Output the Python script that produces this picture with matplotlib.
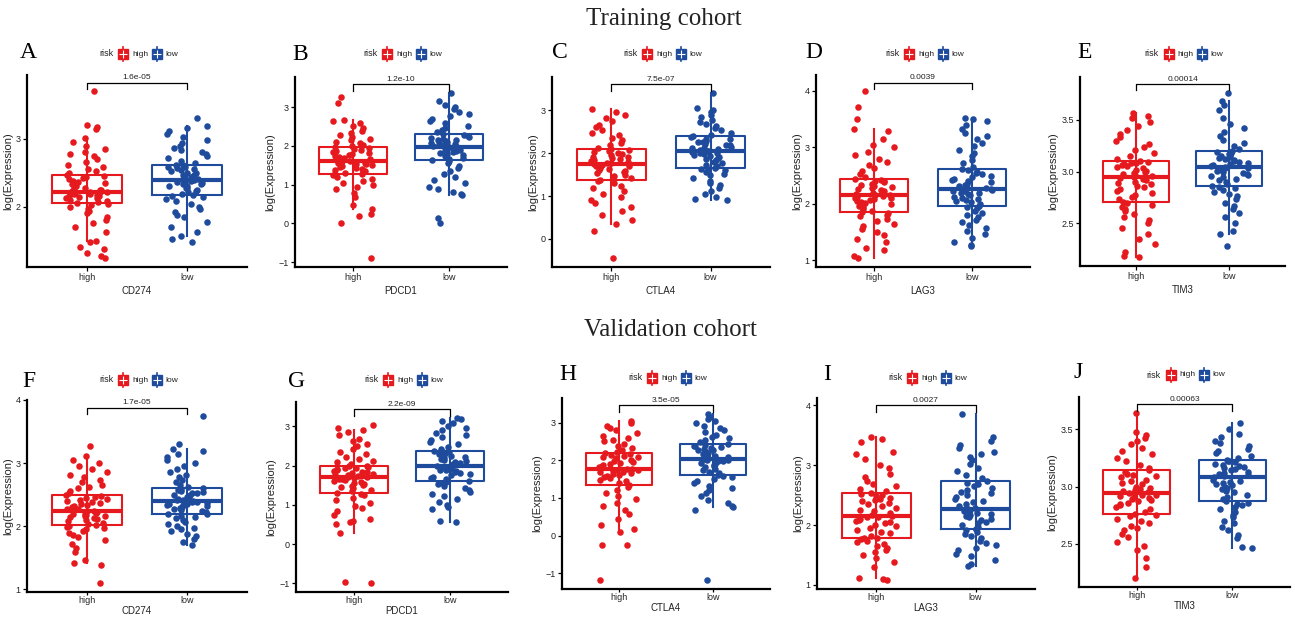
import numpy as np
import matplotlib
matplotlib.use("Agg")
import matplotlib.pyplot as plt
from matplotlib.lines import Line2D

plt.rcParams['font.family'] = ['Liberation Sans', 'DejaVu Sans']

W, H = 1295, 618
RED = "#E5191E"
BLUE = "#1E4B9C"

letters = ["A", "B", "C", "D", "E", "F", "G", "H", "I", "J"]
genes = ["CD274", "PDCD1", "CTLA4", "LAG3", "TIM3", "CD274", "PDCD1", "CTLA4", "LAG3", "TIM3"]
pvalues = ["1.6e-05", "1.2e-10", "7.5e-07", "0.0039", "0.00014",
           "1.7e-05", "2.2e-09", "3.5e-05", "0.0027", "0.00063"]
groups = ["high", "low"]
yticks = {
    "A": [2, 3], "B": [-1, 0, 1, 2, 3], "C": [0, 1, 2, 3], "D": [1, 2, 3, 4], "E": [2.5, 3.0, 3.5],
    "F": [1, 2, 3, 4], "G": [-1, 0, 1, 2, 3], "H": [-1, 0, 1, 2, 3], "I": [1, 2, 3, 4], "J": [2.5, 3.0, 3.5],
}

# box statistics: [whisker low, Q1, median, Q3, whisker high]
A_high_box = [1.50, 2.06, 2.22, 2.46, 3.01]
A_low_box = [1.56, 2.17, 2.39, 2.62, 3.19]
B_high_box = [0.36, 1.27, 1.60, 1.96, 2.68]
B_low_box = [0.72, 1.63, 1.97, 2.31, 3.36]
C_high_box = [0.35, 1.38, 1.75, 2.09, 3.04]
C_low_box = [0.92, 1.65, 2.04, 2.39, 3.40]
D_high_box = [1.04, 1.85, 2.15, 2.44, 3.33]
D_low_box = [1.25, 1.97, 2.26, 2.62, 3.52]
E_high_box = [2.17, 2.71, 2.95, 3.10, 3.57]
E_low_box = [2.40, 2.86, 3.04, 3.20, 3.68]
F_high_box = [1.42, 2.02, 2.24, 2.50, 3.12]
F_low_box = [1.71, 2.20, 2.40, 2.60, 3.23]
G_high_box = [0.28, 1.30, 1.70, 2.00, 2.91]
G_low_box = [0.57, 1.61, 1.98, 2.38, 3.21]
H_high_box = [0.17, 1.35, 1.76, 2.19, 3.04]
H_low_box = [0.75, 1.60, 2.03, 2.43, 3.22]
I_high_box = [1.11, 1.79, 2.16, 2.53, 3.47]
I_low_box = [1.32, 1.94, 2.27, 2.73, 3.85]
J_high_box = [2.20, 2.76, 2.94, 3.14, 3.64]
J_low_box = [2.46, 2.87, 3.08, 3.23, 3.55]

# individual samples (log expression)
A_high = [1.24, 1.27, 1.31, 1.37, 1.41, 1.48, 1.50, 1.62, 1.70, 1.76, 1.80, 1.85, 1.90, 1.93, 1.97, 2.00, 2.02, 2.04,
          2.06, 2.07, 2.09, 2.10, 2.12, 2.13, 2.14, 2.15, 2.16, 2.17, 2.18, 2.19, 2.20, 2.21, 2.22, 2.22,
          2.23, 2.24, 2.25, 2.27, 2.28, 2.30, 2.31, 2.33, 2.35, 2.36, 2.38, 2.40, 2.42, 2.43, 2.45, 2.46,
          2.49, 2.52, 2.55, 2.58, 2.62, 2.66, 2.70, 2.74, 2.78, 2.80, 2.85, 2.90, 2.95, 3.01, 3.15, 3.17, 3.20, 3.70]
A_low = [1.48, 1.52, 1.56, 1.62, 1.70, 1.78, 1.85, 1.88, 1.92, 1.96, 2.00, 2.04, 2.08, 2.11, 2.14, 2.16,
         2.17, 2.19, 2.21, 2.23, 2.25, 2.27, 2.28, 2.30, 2.31, 2.33, 2.34, 2.35, 2.36, 2.37, 2.38, 2.39,
         2.40, 2.41, 2.43, 2.44, 2.46, 2.47, 2.49, 2.50, 2.52, 2.54, 2.55, 2.57, 2.58, 2.59, 2.61, 2.62,
         2.65, 2.68, 2.71, 2.74, 2.78, 2.81, 2.84, 2.87, 2.90, 2.94, 2.98, 3.02, 3.07, 3.12, 3.16, 3.19, 3.31]
B_high = [-0.90, 0.00, 0.20, 0.25, 0.36, 0.48, 0.68, 0.78, 0.88, 0.95, 1.00, 1.05, 1.10, 1.15, 1.20, 1.24,
          1.27, 1.30, 1.34, 1.37, 1.40, 1.43, 1.45, 1.48, 1.50, 1.52, 1.54, 1.55, 1.57, 1.58, 1.59, 1.60,
          1.61, 1.63, 1.65, 1.67, 1.70, 1.72, 1.74, 1.77, 1.79, 1.82, 1.84, 1.87, 1.89, 1.91, 1.94, 1.96,
          1.99, 2.03, 2.07, 2.11, 2.15, 2.19, 2.22, 2.27, 2.32, 2.38, 2.45, 2.52, 2.58, 2.63, 2.68, 3.10, 3.25]
B_low = [0.00, 0.15, 0.72, 0.76, 0.80, 0.88, 0.95, 1.05, 1.12, 1.20, 1.28, 1.35, 1.42, 1.48, 1.55, 1.60,
         1.63, 1.66, 1.70, 1.73, 1.76, 1.79, 1.82, 1.84, 1.86, 1.88, 1.90, 1.92, 1.93, 1.94, 1.96, 1.97,
         1.98, 2.00, 2.02, 2.04, 2.06, 2.08, 2.10, 2.12, 2.14, 2.16, 2.18, 2.20, 2.23, 2.25, 2.28, 2.31,
         2.35, 2.40, 2.45, 2.52, 2.58, 2.64, 2.70, 2.76, 2.82, 2.88, 2.95, 3.00, 3.05, 3.15, 3.36]
C_high = [-0.45, 0.18, 0.35, 0.45, 0.55, 0.65, 0.75, 0.85, 0.92, 0.98, 1.05, 1.12, 1.18, 1.24, 1.30, 1.35,
          1.38, 1.42, 1.46, 1.50, 1.53, 1.56, 1.58, 1.61, 1.63, 1.65, 1.67, 1.69, 1.70, 1.72, 1.73, 1.75,
          1.76, 1.78, 1.80, 1.82, 1.84, 1.86, 1.88, 1.90, 1.92, 1.95, 1.97, 2.00, 2.02, 2.04, 2.07, 2.09,
          2.13, 2.18, 2.24, 2.30, 2.36, 2.42, 2.48, 2.54, 2.60, 2.66, 2.75, 2.82, 2.88, 2.97, 3.04]
C_low = [0.92, 0.94, 0.98, 1.05, 1.12, 1.20, 1.25, 1.30, 1.36, 1.42, 1.48, 1.52, 1.56, 1.60, 1.62, 1.64,
         1.65, 1.69, 1.73, 1.77, 1.80, 1.83, 1.86, 1.89, 1.91, 1.94, 1.96, 1.98, 2.00, 2.01, 2.03, 2.04,
         2.05, 2.07, 2.09, 2.11, 2.13, 2.15, 2.18, 2.20, 2.22, 2.25, 2.27, 2.29, 2.32, 2.34, 2.37, 2.39,
         2.43, 2.48, 2.53, 2.58, 2.63, 2.68, 2.73, 2.78, 2.85, 2.90, 2.96, 3.00, 3.05, 3.40]
D_high = [1.04, 1.08, 1.18, 1.22, 1.32, 1.38, 1.45, 1.50, 1.55, 1.60, 1.65, 1.70, 1.74, 1.78, 1.81, 1.84,
          1.85, 1.88, 1.91, 1.94, 1.97, 1.99, 2.01, 2.03, 2.05, 2.07, 2.09, 2.10, 2.11, 2.12, 2.14, 2.15,
          2.16, 2.18, 2.20, 2.22, 2.24, 2.26, 2.28, 2.30, 2.32, 2.34, 2.36, 2.38, 2.40, 2.41, 2.43, 2.44,
          2.48, 2.53, 2.58, 2.63, 2.68, 2.74, 2.80, 2.86, 2.92, 3.00, 3.05, 3.15, 3.28, 3.33, 3.50, 3.72, 3.99]
D_low = [1.25, 1.28, 1.32, 1.40, 1.46, 1.52, 1.58, 1.63, 1.68, 1.72, 1.76, 1.80, 1.84, 1.88, 1.92, 1.95,
         1.97, 2.00, 2.03, 2.05, 2.07, 2.09, 2.11, 2.13, 2.15, 2.17, 2.19, 2.20, 2.22, 2.23, 2.25, 2.26,
         2.28, 2.30, 2.32, 2.34, 2.36, 2.38, 2.40, 2.42, 2.44, 2.47, 2.49, 2.52, 2.54, 2.57, 2.60, 2.62,
         2.66, 2.72, 2.78, 2.84, 2.90, 2.96, 3.02, 3.08, 3.14, 3.20, 3.26, 3.32, 3.40, 3.46, 3.50, 3.52]
E_high = [2.17, 2.18, 2.22, 2.30, 2.35, 2.40, 2.45, 2.50, 2.53, 2.56, 2.59, 2.62, 2.64, 2.66, 2.68, 2.70,
          2.71, 2.73, 2.75, 2.77, 2.79, 2.81, 2.83, 2.85, 2.86, 2.88, 2.89, 2.90, 2.92, 2.93, 2.94, 2.95,
          2.96, 2.97, 2.98, 2.99, 3.00, 3.01, 3.02, 3.03, 3.04, 3.05, 3.06, 3.07, 3.08, 3.08, 3.09, 3.10,
          3.12, 3.15, 3.18, 3.21, 3.24, 3.27, 3.30, 3.33, 3.36, 3.40, 3.44, 3.48, 3.52, 3.54, 3.57]
E_low = [2.28, 2.40, 2.42, 2.50, 2.56, 2.60, 2.64, 2.67, 2.70, 2.73, 2.76, 2.78, 2.80, 2.82, 2.84, 2.85,
         2.86, 2.88, 2.90, 2.92, 2.93, 2.95, 2.96, 2.97, 2.98, 2.99, 3.00, 3.01, 3.02, 3.03, 3.03, 3.04,
         3.05, 3.06, 3.07, 3.08, 3.09, 3.10, 3.11, 3.12, 3.13, 3.14, 3.15, 3.16, 3.17, 3.18, 3.19, 3.20,
         3.22, 3.25, 3.28, 3.31, 3.34, 3.38, 3.42, 3.46, 3.52, 3.60, 3.64, 3.68, 3.76]
F_high = [1.10, 1.38, 1.42, 1.47, 1.60, 1.65, 1.72, 1.78, 1.83, 1.87, 1.90, 1.93, 1.95, 1.97, 1.99, 2.01,
          2.02, 2.04, 2.06, 2.08, 2.10, 2.11, 2.13, 2.14, 2.16, 2.17, 2.18, 2.19, 2.20, 2.21, 2.22, 2.24,
          2.25, 2.27, 2.28, 2.30, 2.32, 2.33, 2.35, 2.37, 2.38, 2.40, 2.42, 2.44, 2.45, 2.47, 2.48, 2.50,
          2.53, 2.56, 2.60, 2.63, 2.66, 2.70, 2.74, 2.78, 2.82, 2.86, 2.90, 2.95, 3.00, 3.05, 3.12, 3.27]
F_low = [1.71, 1.75, 1.80, 1.84, 1.88, 1.92, 1.95, 1.98, 2.01, 2.04, 2.07, 2.10, 2.13, 2.15, 2.17, 2.19,
         2.20, 2.22, 2.24, 2.26, 2.27, 2.29, 2.30, 2.32, 2.33, 2.34, 2.35, 2.36, 2.37, 2.38, 2.39, 2.40,
         2.41, 2.42, 2.43, 2.44, 2.45, 2.47, 2.48, 2.49, 2.50, 2.52, 2.53, 2.55, 2.56, 2.57, 2.59, 2.60,
         2.63, 2.66, 2.70, 2.74, 2.78, 2.82, 2.86, 2.90, 2.95, 3.00, 3.05, 3.10, 3.15, 3.20, 3.23, 3.31, 3.74]
G_high = [-1.00, -0.97, 0.28, 0.50, 0.55, 0.58, 0.65, 0.75, 0.85, 0.92, 0.98, 1.05, 1.12, 1.18, 1.24, 1.28,
          1.30, 1.34, 1.38, 1.42, 1.45, 1.48, 1.51, 1.54, 1.56, 1.58, 1.61, 1.63, 1.65, 1.67, 1.68, 1.70,
          1.71, 1.73, 1.75, 1.77, 1.79, 1.81, 1.83, 1.85, 1.87, 1.89, 1.91, 1.93, 1.95, 1.97, 1.98, 2.00,
          2.04, 2.08, 2.13, 2.18, 2.23, 2.29, 2.35, 2.42, 2.50, 2.56, 2.62, 2.68, 2.78, 2.86, 2.91, 2.95, 3.03]
G_low = [0.57, 0.60, 0.90, 0.95, 1.00, 1.08, 1.15, 1.22, 1.28, 1.33, 1.38, 1.43, 1.48, 1.52, 1.56, 1.59,
         1.61, 1.65, 1.69, 1.72, 1.75, 1.78, 1.81, 1.84, 1.86, 1.88, 1.90, 1.92, 1.94, 1.95, 1.97, 1.98,
         2.00, 2.03, 2.06, 2.09, 2.12, 2.15, 2.18, 2.20, 2.22, 2.25, 2.27, 2.30, 2.32, 2.34, 2.36, 2.38,
         2.43, 2.48, 2.54, 2.60, 2.66, 2.72, 2.78, 2.84, 2.90, 2.96, 3.02, 3.08, 3.13, 3.18, 3.21]
H_high = [-1.18, -0.25, -0.25, 0.10, 0.17, 0.28, 0.45, 0.57, 0.68, 0.78, 0.88, 0.97, 1.05, 1.12, 1.20, 1.28,
          1.35, 1.40, 1.45, 1.49, 1.53, 1.56, 1.59, 1.62, 1.64, 1.66, 1.68, 1.70, 1.72, 1.73, 1.75, 1.76,
          1.78, 1.81, 1.84, 1.87, 1.90, 1.93, 1.96, 1.99, 2.02, 2.05, 2.08, 2.10, 2.12, 2.14, 2.16, 2.19,
          2.23, 2.28, 2.33, 2.38, 2.44, 2.50, 2.55, 2.60, 2.65, 2.72, 2.80, 2.86, 2.92, 2.98, 3.04]
H_low = [-1.18, 0.68, 0.75, 0.80, 0.86, 0.95, 1.05, 1.12, 1.20, 1.27, 1.33, 1.39, 1.45, 1.50, 1.55, 1.58,
         1.60, 1.65, 1.70, 1.74, 1.78, 1.82, 1.85, 1.88, 1.91, 1.93, 1.95, 1.97, 1.99, 2.00, 2.02, 2.03,
         2.05, 2.08, 2.11, 2.14, 2.17, 2.20, 2.23, 2.26, 2.28, 2.31, 2.33, 2.35, 2.37, 2.39, 2.41, 2.43,
         2.48, 2.53, 2.58, 2.63, 2.68, 2.74, 2.80, 2.86, 2.92, 2.98, 3.04, 3.10, 3.16, 3.22]
I_high = [1.08, 1.10, 1.12, 1.30, 1.38, 1.45, 1.50, 1.55, 1.58, 1.62, 1.65, 1.68, 1.71, 1.74, 1.76, 1.78,
          1.79, 1.82, 1.86, 1.89, 1.92, 1.95, 1.98, 2.00, 2.03, 2.05, 2.07, 2.09, 2.11, 2.13, 2.14, 2.16,
          2.17, 2.20, 2.23, 2.26, 2.29, 2.32, 2.35, 2.37, 2.40, 2.42, 2.44, 2.46, 2.48, 2.50, 2.52, 2.53,
          2.57, 2.61, 2.65, 2.69, 2.74, 2.80, 2.86, 2.95, 3.00, 3.10, 3.18, 3.22, 3.38, 3.43, 3.47]
I_low = [1.32, 1.35, 1.42, 1.48, 1.52, 1.58, 1.62, 1.66, 1.70, 1.74, 1.78, 1.82, 1.85, 1.88, 1.91, 1.93,
         1.94, 1.97, 2.00, 2.03, 2.05, 2.08, 2.10, 2.13, 2.15, 2.17, 2.19, 2.21, 2.23, 2.24, 2.26, 2.27,
         2.29, 2.32, 2.35, 2.38, 2.41, 2.44, 2.47, 2.50, 2.53, 2.56, 2.59, 2.62, 2.65, 2.68, 2.70, 2.73,
         2.78, 2.84, 2.90, 2.96, 3.02, 3.08, 3.14, 3.18, 3.22, 3.28, 3.33, 3.40, 3.47, 3.85]
J_high = [2.20, 2.30, 2.38, 2.45, 2.48, 2.52, 2.56, 2.59, 2.62, 2.64, 2.66, 2.68, 2.70, 2.72, 2.74, 2.75,
          2.76, 2.78, 2.80, 2.82, 2.84, 2.85, 2.86, 2.87, 2.88, 2.89, 2.90, 2.91, 2.92, 2.93, 2.93, 2.94,
          2.95, 2.96, 2.97, 2.98, 2.99, 3.00, 3.02, 3.03, 3.05, 3.06, 3.08, 3.09, 3.10, 3.11, 3.13, 3.14,
          3.16, 3.19, 3.22, 3.25, 3.28, 3.31, 3.34, 3.37, 3.40, 3.42, 3.45, 3.48, 3.64]
J_low = [2.46, 2.47, 2.55, 2.58, 2.62, 2.65, 2.68, 2.70, 2.73, 2.75, 2.78, 2.80, 2.82, 2.84, 2.85, 2.86,
         2.87, 2.89, 2.91, 2.93, 2.95, 2.96, 2.98, 2.99, 3.00, 3.01, 3.02, 3.03, 3.04, 3.05, 3.06, 3.08,
         3.09, 3.10, 3.11, 3.12, 3.13, 3.14, 3.15, 3.16, 3.17, 3.18, 3.19, 3.20, 3.21, 3.22, 3.22, 3.23,
         3.25, 3.27, 3.29, 3.31, 3.33, 3.35, 3.38, 3.40, 3.43, 3.46, 3.50, 3.55]

points = {
    "A": (A_high, A_low), "B": (B_high, B_low), "C": (C_high, C_low), "D": (D_high, D_low), "E": (E_high, E_low),
    "F": (F_high, F_low), "G": (G_high, G_low), "H": (H_high, H_low), "I": (I_high, I_low), "J": (J_high, J_low),
}
boxes = {
    "A": (A_high_box, A_low_box), "B": (B_high_box, B_low_box), "C": (C_high_box, C_low_box),
    "D": (D_high_box, D_low_box), "E": (E_high_box, E_low_box), "F": (F_high_box, F_low_box),
    "G": (G_high_box, G_low_box), "H": (H_high_box, H_low_box), "I": (I_high_box, I_low_box),
    "J": (J_high_box, J_low_box),
}

# ---------------- layout (pixel boxes: left, top, right, bottom) ----------------
axes_px = {
    "A": (27, 75, 247, 267), "B": (295, 77, 507, 267), "C": (552, 77, 770, 267),
    "D": (816, 75, 1030, 267), "E": (1080, 77, 1285, 266),
    "F": (27, 400, 247, 592), "G": (296, 402, 508, 592), "H": (562, 398, 770, 589),
    "I": (817, 398, 1035, 589), "J": (1079, 397, 1290, 587),
}
letter_px = {
    "A": (20, 42), "B": (292, 44), "C": (552, 42), "D": (805, 42), "E": (1077, 42),
    "F": (22, 371), "G": (288, 371), "H": (559, 364), "I": (823, 364), "J": (1074, 362),
}
legend_y = {"A": 54, "B": 54, "C": 54, "D": 54, "E": 54, "F": 380, "G": 380, "H": 378, "I": 378, "J": 375}

fig = plt.figure(figsize=(W / 100, H / 100), dpi=100)


def fx(px):
    return px / W


def fy(py):
    return 1 - py / H


def key(cx, cy, col):
    fig.add_artist(Line2D([fx(cx), fx(cx)], [fy(cy - 7), fy(cy + 7)], color=col, lw=1.2,
                          transform=fig.transFigure))
    fig.add_artist(Line2D([fx(cx)], [fy(cy)], marker='s', markersize=7.5, color=col, mec=col,
                          transform=fig.transFigure))
    fig.add_artist(Line2D([fx(cx)], [fy(cy)], marker='+', markersize=5.5, color='white', mew=0.8,
                          transform=fig.transFigure))


for k, L in enumerate(letters):
    l, t, r, b = axes_px[L]
    bottom_row = k >= 5
    ax = fig.add_axes([fx(l), fy(b), (r - l) / W, (b - t) / H])
    hi, lo = points[L]
    hb, lb = boxes[L]
    allv = hi + lo
    vmin, vmax = min(allv), max(allv)
    rng = vmax - vmin
    ybr = vmax + 0.053 * rng
    ax.set_ylim(vmin - 0.053 * rng, ybr + 0.045 * rng)
    ax.set_xlim(0.4, 2.6)

    for pos, pts, box, col in [(1, hi, hb, RED), (2, lo, lb, BLUE)]:
        stats = [dict(whislo=box[0], q1=box[1], med=box[2], q3=box[3], whishi=box[4], fliers=[])]
        ax.bxp(stats, positions=[pos], widths=0.7, showcaps=False, showfliers=False,
               boxprops=dict(color=col, lw=1.5), whiskerprops=dict(color=col, lw=1.5),
               medianprops=dict(color=col, lw=3.0, solid_capstyle='butt'), manage_ticks=False)
        ax.vlines(pos, box[1], box[3], color=col, lw=1.5, zorder=2)
        idx = np.arange(len(pts))
        u = np.abs(np.sin((idx + 1 + pos * 101 + k * 7) * 12.9898) * 43758.5453) % 1
        ax.scatter(pos + (u - 0.5) * 0.42, pts, s=22, color=col, linewidths=0, zorder=3)

    # comparison bracket
    leg = 0.037 * rng
    ax.plot([1, 1, 2, 2], [ybr - leg, ybr, ybr, ybr - leg], color='black', lw=0.9, zorder=4)
    ax.annotate(pvalues[k], (1.5, ybr), xytext=(0, 1.2), textcoords='offset points',
                ha='center', va='bottom', fontsize=6, color='#222222')

    ax.set_xticks([1, 2], groups)
    yt = yticks[L]
    ax.set_yticks(yt)
    if L in ("E", "J"):
        ax.set_yticklabels([f"{v:.1f}" for v in yt])
    ax.tick_params(axis='y', labelsize=6.5, length=3, width=0.9, colors='black',
                   labelcolor='#222222', pad=1.5)
    ax.tick_params(axis='x', labelsize=6.5, length=2.5 if bottom_row else 3, width=0.9, colors='black',
                   labelcolor='#222222', pad=0.5 if bottom_row else 1.5)
    for s in ("top", "right"):
        ax.spines[s].set_visible(False)
    for s in ("left", "bottom"):
        ax.spines[s].set_linewidth(1.6)
    ax.set_ylabel("log(Expression)", fontsize=8, labelpad=2, color='#222222')
    ax.set_xlabel(genes[k], fontsize=7, labelpad=0.5 if bottom_row else 2.5, color='#222222')
    ax.patch.set_alpha(0)

    # panel letter
    lx, ly = letter_px[L]
    fig.text(fx(lx), fy(ly), L, fontsize=17, family='Liberation Serif', ha='left', va='top')

    # legend
    cx = (l + r) / 2
    cy = legend_y[L]
    fig.text(fx(cx - 38), fy(cy), "risk", fontsize=6.5, ha='left', va='center', color='#222222')
    key(cx - 14, cy, RED)
    fig.text(fx(cx - 5), fy(cy), "high", fontsize=6, ha='left', va='center', color='#222222')
    key(cx + 19.5, cy, BLUE)
    fig.text(fx(cx + 28), fy(cy), "low", fontsize=6, ha='left', va='center', color='#222222')

fig.text(fx(664), fy(19), "Training cohort", fontsize=18, family='Liberation Serif',
         ha='center', va='center', color='#222222')
fig.text(fx(670), fy(330), "Validation cohort", fontsize=18, family='Liberation Serif',
         ha='center', va='center', color='#222222')

fig.savefig("out.png", dpi=100)
